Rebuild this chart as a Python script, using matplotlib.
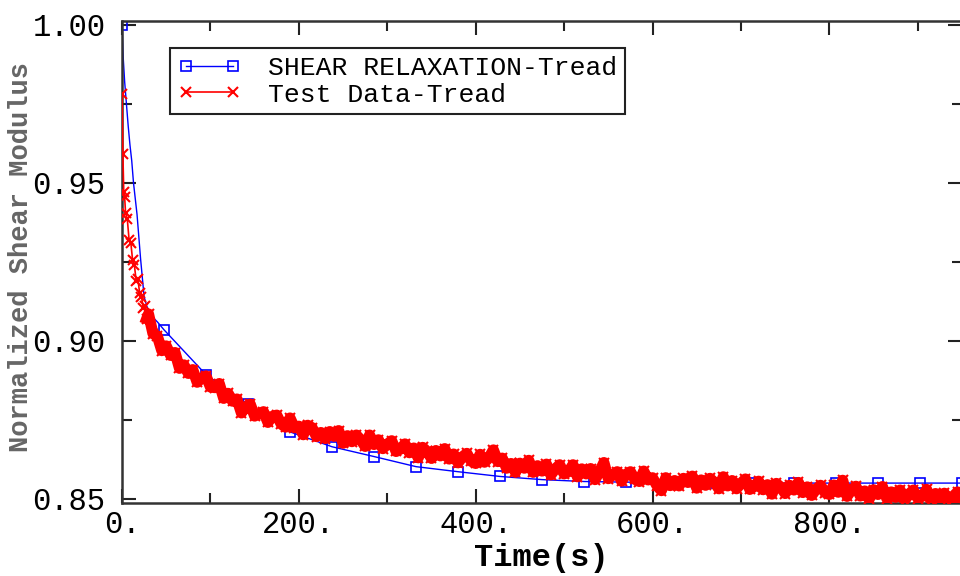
import matplotlib
matplotlib.use("Agg")
import matplotlib.pyplot as plt
from matplotlib.ticker import FixedLocator, FuncFormatter

# ---- fitted Prony-series curve (blue) ------------------------------------
FIT_TIME = [0, 1.5, 3, 5, 7, 9, 11, 13, 15, 17, 19, 21, 23, 25, 28, 33, 40,
            47.5, 95, 142.5, 190, 237.5, 285, 332.5, 380, 427.5, 475, 522.5,
            570, 617.5, 665, 712.5, 760, 807.5, 855, 902.5, 950]
FIT_MODULUS = [1.000, 0.989, 0.982, 0.975, 0.968, 0.962, 0.957, 0.950, 0.945,
               0.940, 0.933, 0.926, 0.920, 0.914, 0.911, 0.908, 0.906,
               0.9035, 0.8893, 0.8800, 0.8712, 0.8665, 0.8634, 0.8602, 0.8586,
               0.8571, 0.8561, 0.8555, 0.8553, 0.8552, 0.8551, 0.8551, 0.8550,
               0.8550, 0.8550, 0.8550, 0.8550]
FIT_MARKERS = [0] + list(range(17, len(FIT_TIME)))

# ---- measured test data (red) ---------------------------------------------
TEST_TIME = [
    0, 1, 2, 3, 4, 6, 8, 10, 12, 14, 16, 18, 20, 22, 24, 26, 28,
    30, 35, 40, 45, 50, 55, 60, 65, 70, 75, 80, 85, 90, 95, 100, 105, 110,
    115, 120, 125, 130, 135, 140, 145, 150, 155, 160, 165, 170, 175, 180,
    185, 190, 195, 200, 205, 210, 215, 220, 225, 230, 235, 240, 245, 250,
    255, 260, 265, 270, 275, 280, 285, 290, 295, 300, 305, 310, 315, 320,
    325, 330, 335, 340, 345, 350, 355, 360, 365, 370, 375, 380, 385, 390,
    395, 400, 405, 410, 415, 420, 425, 430, 435, 440, 445, 450, 455, 460,
    465, 470, 475, 480, 485, 490, 495, 500, 505, 510, 515, 520, 525, 530,
    535, 540, 545, 550, 555, 560, 565, 570, 575, 580, 585, 590, 595, 600,
    605, 610, 615, 620, 625, 630, 635, 640, 645, 650, 655, 660, 665, 670,
    675, 680, 685, 690, 695, 700, 705, 710, 715, 720, 725, 730, 735, 740,
    745, 750, 755, 760, 765, 770, 775, 780, 785, 790, 795, 800, 805, 810,
    815, 820, 825, 830, 835, 840, 845, 850, 855, 860, 865, 870, 875, 880,
    885, 890, 895, 900, 905, 910, 915, 920, 925, 930, 935, 940, 945, 950]
TEST_MODULUS = [
    0.9780, 0.9590, 0.9470, 0.9455, 0.9405, 0.9385, 0.9320, 0.9310, 0.9255,
    0.9240, 0.9190, 0.9195, 0.9150, 0.9140, 0.9105, 0.9110, 0.9070,
    0.9085, 0.9023, 0.9015, 0.8969, 0.8984, 0.8954, 0.8963, 0.8913, 0.8924,
    0.8897, 0.8909, 0.8869, 0.8882, 0.8889, 0.8854, 0.8852, 0.8865, 0.8818,
    0.8834, 0.8809, 0.8816, 0.8772, 0.8791, 0.8800, 0.8762, 0.8769, 0.8776,
    0.8742, 0.8761, 0.8765, 0.8737, 0.8727, 0.8756, 0.8725, 0.8730, 0.8703,
    0.8733, 0.8725, 0.8697, 0.8710, 0.8691, 0.8713, 0.8698, 0.8716, 0.8676,
    0.8700, 0.8681, 0.8702, 0.8687, 0.8666, 0.8702, 0.8672, 0.8687, 0.8659,
    0.8673, 0.8684, 0.8650, 0.8658, 0.8674, 0.8646, 0.8661, 0.8630, 0.8663,
    0.8650, 0.8628, 0.8653, 0.8636, 0.8659, 0.8626, 0.8642, 0.8614, 0.8633,
    0.8644, 0.8619, 0.8612, 0.8641, 0.8616, 0.8630, 0.8655, 0.8618, 0.8629,
    0.8597, 0.8612, 0.8584, 0.8613, 0.8597, 0.8622, 0.8584, 0.8605, 0.8588,
    0.8610, 0.8576, 0.8595, 0.8608, 0.8579, 0.8586, 0.8608, 0.8570, 0.8595,
    0.8579, 0.8596, 0.8561, 0.8586, 0.8615, 0.8564, 0.8576, 0.8586, 0.8556,
    0.8578, 0.8586, 0.8562, 0.8555, 0.8588, 0.8560, 0.8567, 0.8542, 0.8526,
    0.8567, 0.8542, 0.8558, 0.8541, 0.8565, 0.8552, 0.8572, 0.8534, 0.8560,
    0.8543, 0.8565, 0.8552, 0.8532, 0.8570, 0.8541, 0.8558, 0.8532, 0.8549,
    0.8563, 0.8530, 0.8539, 0.8556, 0.8529, 0.8545, 0.8515, 0.8549, 0.8537,
    0.8517, 0.8543, 0.8528, 0.8552, 0.8520, 0.8538, 0.8511, 0.8531, 0.8543,
    0.8520, 0.8514, 0.8544, 0.8521, 0.8559, 0.8508, 0.8528, 0.8540, 0.8509,
    0.8525, 0.8499, 0.8529, 0.8514, 0.8539, 0.8501, 0.8522, 0.8505, 0.8528,
    0.8494, 0.8515, 0.8528, 0.8501, 0.8508, 0.8530, 0.8492, 0.8517, 0.8501,
    0.8518, 0.8483, 0.8508, 0.8522, 0.8488]
DENSE_FROM = 17  # from here on the samples merge into a solid band

X_MAJOR = [0, 200, 400, 600, 800]
X_MINOR = [100, 300, 500, 700, 900]
Y_MAJOR = [0.85, 0.90, 0.95, 1.00]
Y_MINOR = [0.875, 0.925, 0.975]

MONO = "Liberation Mono"

fig = plt.figure(figsize=(9.6, 5.76), dpi=100)
ax = fig.add_axes([122 / 960, 73 / 576, 840 / 960, 482 / 576])

ax.plot(FIT_TIME, FIT_MODULUS, "-", color="#0000ff", lw=1.0,
        marker="s", ms=7, mfc="none", mec="#0000ff", mew=1.2,
        markevery=FIT_MARKERS, label="SHEAR RELAXATION-Tread", zorder=2)
# thick under-stroke so the noisy dense samples read as one band
ax.plot(TEST_TIME[DENSE_FROM - 1:], TEST_MODULUS[DENSE_FROM - 1:], "-",
        color="#ff0000", lw=8, solid_joinstyle="round", zorder=3)
ax.plot(TEST_TIME, TEST_MODULUS, "-", color="#ff0000", lw=1.2,
        marker="x", ms=7, mew=1.5, label="Test Data-Tread", zorder=3)

ax.set_xlim(0, 950)
ax.set_ylim(0.8487, 1.0012)

ax.xaxis.set_major_locator(FixedLocator(X_MAJOR))
ax.xaxis.set_minor_locator(FixedLocator(X_MINOR))
ax.yaxis.set_major_locator(FixedLocator(Y_MAJOR))
ax.yaxis.set_minor_locator(FixedLocator(Y_MINOR))
ax.xaxis.set_major_formatter(FuncFormatter(lambda v, p: f"{v:.0f}."))
ax.yaxis.set_major_formatter(FuncFormatter(lambda v, p: f"{v:.2f}"))

ax.tick_params(which="both", direction="in", top=True, right=True,
               color="#222222", width=1.5)
ax.tick_params(which="major", length=10)
ax.tick_params(which="minor", length=7)
ax.tick_params(axis="x", which="major", pad=5)
ax.tick_params(axis="y", which="major", pad=12)
for lab in ax.get_xticklabels() + ax.get_yticklabels():
    lab.set_fontfamily(MONO)
    lab.set_fontsize(22)
for sp in ax.spines.values():
    sp.set_linewidth(1.8)
    sp.set_color("#333333")

ax.set_xlabel("Time(s)", fontfamily=MONO, fontsize=23, fontweight="bold")
ax.xaxis.set_label_coords((541 - 122) / 840, -(543 - 503) / 482)
ax.set_ylabel("Normalized Shear Modulus", fontfamily=MONO, fontsize=19.5,
              fontweight="bold", color="#666666")
ax.yaxis.set_label_coords(-(122 - 34) / 840, (503 - 257) / 482)

leg = ax.legend(loc="upper left", bbox_to_anchor=(48 / 840, 455 / 482),
                borderaxespad=0, prop={"family": MONO, "size": 19},
                numpoints=2, handlelength=2.4, handletextpad=1.0,
                labelspacing=0.1, borderpad=0.3, fancybox=False,
                framealpha=1, edgecolor="#222222")
leg.get_frame().set_linewidth(1.5)

fig.savefig("out.png", dpi=100)
